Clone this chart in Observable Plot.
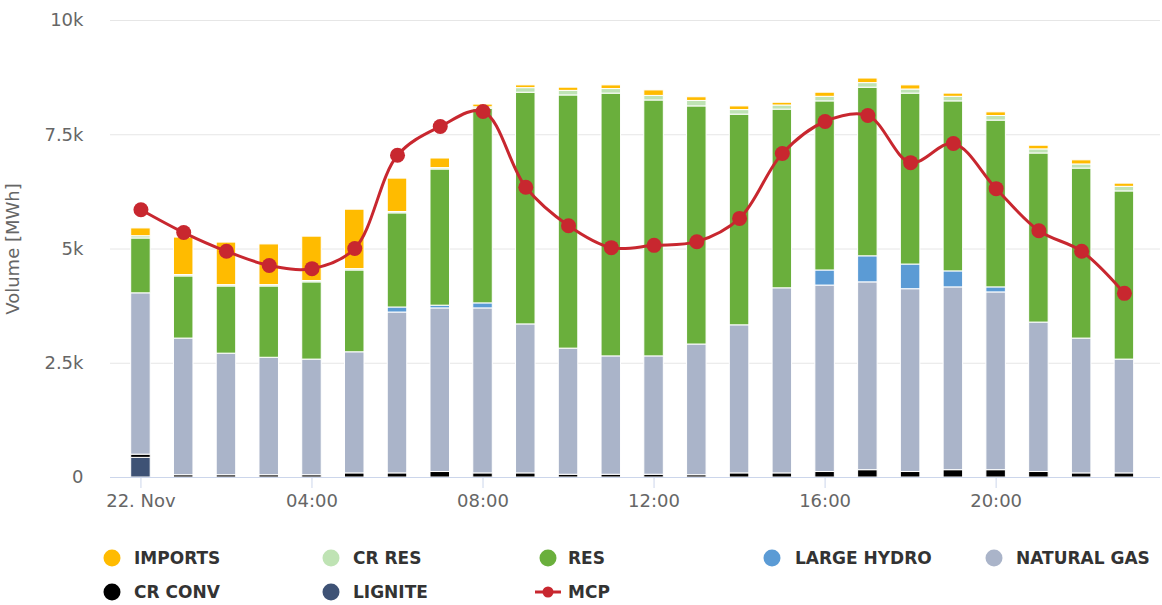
<!DOCTYPE html>
<html><head><meta charset="utf-8">
<script src="https://cdn.jsdelivr.net/npm/d3@7"></script>
<script src="https://cdn.jsdelivr.net/npm/@observablehq/plot@0.6"></script>
<style>
body{margin:0;background:#fff;}
#chart{position:relative;width:1162px;height:605px;overflow:hidden;font-family:"DejaVu Sans",sans-serif;}
.item{position:absolute;height:20px;display:flex;align-items:center;font-weight:bold;font-size:17px;color:#333;white-space:nowrap;}
.mk{position:absolute;}
</style></head><body><div id="chart"></div>
<script>
// ---- data ----
const hours = d3.range(24);
const seriesNames = ["IMPORTS","CR RES","RES","LARGE HYDRO","NATURAL GAS","CR CONV","LIGNITE"];
const seriesColors = ["#ffbb00","#bfe3b4","#6aaf3c","#5b9bd5","#aab4c9","#000000","#3e5275"];
const imports    = [170,820,930,890,970,1300,730,210,60,60,70,80,120,80,80,60,90,100,90,70,80,80,90,70];
const crRes      = [50,30,30,30,30,30,30,30,30,100,100,100,100,120,100,90,100,100,90,100,100,90,90,100];
const res        = [1200,1360,1470,1560,1690,1790,2060,2980,4260,5070,5540,5750,5600,5210,4610,3910,3700,3690,3740,3720,3650,3700,3720,3680];
const largeHydro = [0,0,0,0,0,0,110,60,110,0,0,0,0,0,0,0,330,570,540,350,110,0,0,0];
const naturalGas = [3530,2990,2660,2570,2530,2650,3520,3580,3610,3260,2760,2590,2590,2860,3240,4050,4080,4110,4000,4000,3890,3270,2950,2490];
const crConv     = [70,50,50,50,50,90,90,120,90,90,60,60,60,50,90,90,120,160,120,160,160,120,90,90];
const lignite    = [430,0,0,0,0,0,0,0,0,0,0,0,0,0,0,0,0,0,0,0,0,0,0,0];
const mcp        = [5860,5360,4950,4640,4570,5010,7050,7680,8010,6350,5510,5030,5080,5160,5670,7090,7790,7920,6890,7310,6320,5400,4950,4030];
const xTickHours = [0,4,8,12,16,20];
const xTickLabels = ["22. Nov","04:00","08:00","12:00","16:00","20:00"];
const yTicks = [0,2500,5000,7500,10000];
const yTickLabels = ["0","2.5k","5k","7.5k","10k"];
const yTitle = "Volume [MWh]";
const mcpName = "MCP";
const mcpColor = "#c8272f";

// ---- build tables ----
const seriesValues = {"IMPORTS":imports,"CR RES":crRes,"RES":res,"LARGE HYDRO":largeHydro,
  "NATURAL GAS":naturalGas,"CR CONV":crConv,"LIGNITE":lignite};
const bottomToTop = seriesNames.slice().reverse();
const long = [];
for (const s of bottomToTop) hours.forEach((h,i)=>{ if (seriesValues[s][i] > 0) long.push({hour:h, series:s, value:seriesValues[s][i]}); });
const mcpData = hours.map((h,i)=>({hour:h, mcp:mcp[i]}));

const chart = Plot.plot({
  width:1162, height:530,
  marginLeft:110, marginRight:2, marginTop:20, marginBottom:53,
  style:{fontFamily:"DejaVu Sans", fontSize:"18px", color:"#666", background:"#fff", overflow:"visible"},
  x:{type:"band", domain:hours, paddingInner:0.544, paddingOuter:0.55, align:0.44, round:false, axis:null},
  y:{domain:[0,10000], axis:null},
  color:{domain:seriesNames, range:seriesColors},
  marks:[
    Plot.gridY(yTicks.slice(1), {stroke:"#e6e6e6", strokeOpacity:1, strokeWidth:1}),
    Plot.barY(long, {x:"hour", y:"value", fill:"series", z:"series", order:bottomToTop, stroke:"#fff", strokeWidth:1}),
    Plot.ruleY([0], {stroke:"#ccd6eb", strokeWidth:1}),
    Plot.axisX(xTickHours, {tickSize:11, tickPadding:6, stroke:"#ccd6eb", fill:"#666", fontSize:18,
      tickFormat:(d)=>xTickLabels[xTickHours.indexOf(d)], label:null}),
    Plot.axisY(yTicks, {tickSize:0, tickPadding:27, fill:"#666", fontSize:18,
      tickFormat:(d)=>yTickLabels[yTicks.indexOf(d)], label:yTitle, labelAnchor:"center", labelArrow:"none", labelOffset:104}),
    Plot.line(mcpData, {x:"hour", y:"mcp", stroke:mcpColor, strokeWidth:3, curve:"catmull-rom"}),
    Plot.dot(mcpData, {x:"hour", y:"mcp", fill:mcpColor, r:7.5})
  ]
});
const root = document.getElementById("chart");
root.appendChild(chart);

// ---- legend ----
const legendItems = [
  {name:"IMPORTS", cx:112, cy:558, tx:134},
  {name:"CR RES", cx:331, cy:558, tx:353},
  {name:"RES", cx:548, cy:558, tx:568},
  {name:"LARGE HYDRO", cx:772, cy:558, tx:795},
  {name:"NATURAL GAS", cx:994, cy:558, tx:1016},
  {name:"CR CONV", cx:112, cy:592, tx:134},
  {name:"LIGNITE", cx:331, cy:592, tx:353},
  {name:mcpName, cx:548, cy:592, tx:568, line:true}
];
for (const it of legendItems) {
  const color = it.line ? mcpColor : seriesColors[seriesNames.indexOf(it.name)];
  const svg = d3.create("svg").attr("class","mk").attr("width",30).attr("height",20)
    .style("left",(it.cx-15)+"px").style("top",(it.cy-10)+"px");
  if (it.line) {
    svg.append("line").attr("x1",2).attr("x2",28).attr("y1",10).attr("y2",10).attr("stroke",color).attr("stroke-width",3);
    svg.append("circle").attr("cx",15).attr("cy",10).attr("r",5.5).attr("fill",color);
  } else {
    svg.append("circle").attr("cx",15).attr("cy",10).attr("r",8.5).attr("fill",color);
  }
  root.appendChild(svg.node());
  const d = document.createElement("div");
  d.className = "item"; d.textContent = it.name;
  d.style.left = it.tx+"px"; d.style.top = (it.cy-10)+"px";
  root.appendChild(d);
}
</script></body></html>
